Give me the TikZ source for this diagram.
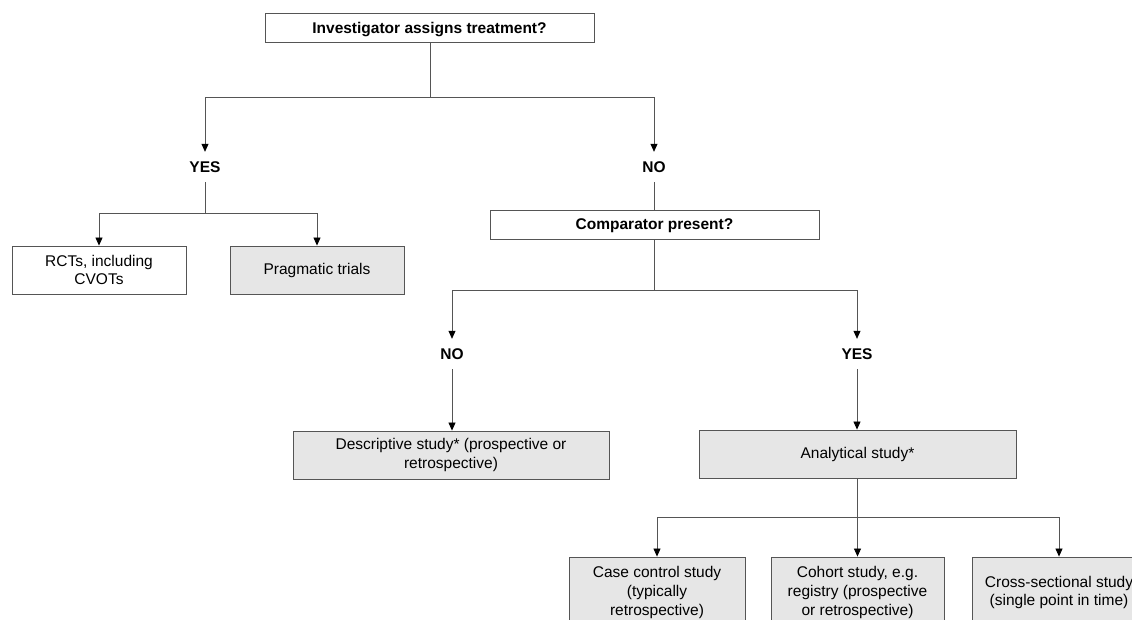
\documentclass[tikz,border=0pt]{standalone}
\usepackage{fontspec}
\setmainfont{Liberation Sans}
\usetikzlibrary{arrows.meta}
\definecolor{boxgray}{HTML}{E6E6E6}
\definecolor{linegray}{HTML}{555555}
\tikzset{
  base/.style={font=\fontsize{15.5}{18.8}\selectfont, text=black, align=center, inner sep=0pt},
  qbox/.style={base, draw=linegray, line width=0.9pt, fill=white, text depth=0pt, font=\fontsize{15.5}{18.8}\selectfont\bfseries},
  wbox/.style={base, draw=linegray, line width=0.9pt, fill=white},
  gbox/.style={base, draw=linegray, line width=0.9pt, fill=boxgray},
  lab/.style={base, font=\fontsize{15.5}{18.8}\selectfont\bfseries, minimum height=30pt},
  conn/.style={draw=linegray, line width=0.8pt},
  arr/.style={conn, -{Triangle[width=7pt,length=8pt,fill=black,color=black]}}
}
\begin{document}
\begin{tikzpicture}[x=1pt,y=-1pt]
\useasboundingbox (0,0) rectangle (1132,619);
\clip (0,0) rectangle (1132,619);
\fill[white] (0,0) rectangle (1132,619);
% nodes
\node[qbox, minimum width=329pt, minimum height=29pt] (top) at (429.5,27.5) {Investigator assigns treatment?};
\node[lab] (yes1) at (205,167) {YES};
\node[lab] (no1) at (654,167) {NO};
\node[wbox, minimum width=174pt, minimum height=48pt] (rct) at (99,270) {RCTs, including\\CVOTs};
\node[gbox, minimum width=174pt, minimum height=48pt] (prag) at (317,270) {Pragmatic trials};
\node[qbox, minimum width=329pt, minimum height=29pt] (comp) at (654.5,224.5) {Comparator present?};
\node[lab] (no2) at (452,354) {NO};
\node[lab] (yes2) at (857,354) {YES};
\node[gbox, minimum width=316pt, minimum height=48pt] (desc) at (451,455) {Descriptive study* (prospective or\\retrospective)};
\node[gbox, minimum width=317pt, minimum height=48pt] (anal) at (857.5,454) {Analytical study*};
\node[gbox, minimum width=176pt, minimum height=71pt] (case) at (657,592.5) {Case control study\\(typically\\retrospective)};
\node[gbox, minimum width=173pt, minimum height=71pt] (coh) at (857.5,592.5) {Cohort study, e.g.\\registry (prospective\\or retrospective)};
\node[gbox, minimum width=174pt, minimum height=71pt] (cross) at (1059,592.5) {Cross-sectional study\\(single point in time)};
% junctions
\coordinate (j1) at (430,97);
\coordinate (j2) at (205,213);
\coordinate (j3) at (654.5,290);
\coordinate (j4) at (857.5,517);
% connectors
\draw[conn] (top.south -| j1) -- (j1);
\draw[arr] (j1) -| (yes1.north);
\draw[arr] (j1) -| (no1.north);
\draw[conn] (yes1.south) -- (j2);
\draw[arr] (j2) -| (rct.north);
\draw[arr] (j2) -| (prag.north);
\draw[conn] (no1.south) -- (comp.north -| no1.south);
\draw[conn] (comp.south) -- (j3);
\draw[arr] (j3) -| (no2.north);
\draw[arr] (j3) -| (yes2.north);
\draw[arr] (no2.south) -- (desc.north -| no2.south);
\draw[arr] (yes2.south) -- (anal.north -| yes2.south);
\draw[conn] (anal.south) -- (j4);
\draw[arr] (j4) -| (case.north);
\draw[arr] (j4) -- (coh.north);
\draw[arr] (j4) -| (cross.north);
\end{tikzpicture}
\end{document}
